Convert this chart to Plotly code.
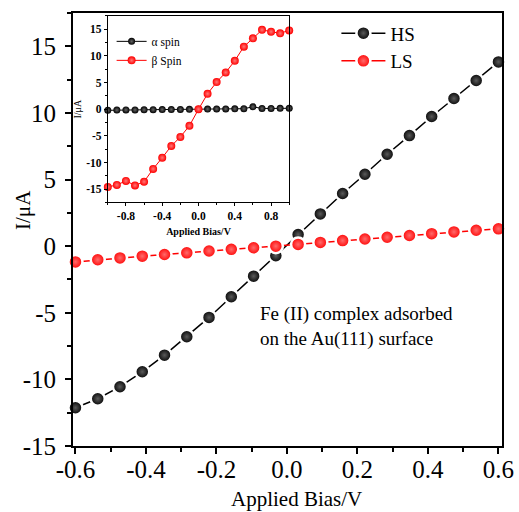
import plotly.graph_objects as go

# ---------------- data ----------------
bias_main = [-0.6, -0.5368, -0.4737, -0.4105, -0.3474, -0.2842, -0.2211, -0.1579, -0.0947, -0.0316,
             0.0316, 0.0947, 0.1579, 0.2211, 0.2842, 0.3474, 0.4105, 0.4737, 0.5368, 0.6]
hs_current = [-12.13, -11.45, -10.55, -9.43, -8.18, -6.8, -5.35, -3.8, -2.25, -0.72,
              0.87, 2.42, 3.95, 5.4, 6.9, 8.3, 9.73, 11.08, 12.43, 13.83]
ls_current = [-1.18, -1.02, -0.88, -0.75, -0.63, -0.5, -0.36, -0.24, -0.12, 0.0,
              0.13, 0.28, 0.42, 0.54, 0.67, 0.8, 0.94, 1.07, 1.19, 1.3]

bias_inset = [-1.0, -0.9, -0.8, -0.7, -0.6, -0.5, -0.4, -0.3, -0.2, -0.1, 0.0,
              0.1, 0.2, 0.3, 0.4, 0.5, 0.6, 0.7, 0.8, 0.9, 1.0]
alpha_current = [-0.2, -0.15, -0.12, -0.12, -0.1, -0.08, -0.06, -0.05, -0.03, -0.02, 0.0,
                 0.03, 0.05, 0.06, 0.08, 0.1, 0.45, 0.15, 0.15, 0.18, 0.18]
beta_current = [-14.6, -14.2, -13.45, -14.3, -13.6, -11.2, -9.1, -6.9, -5.2, -3.1, 0.0,
                2.9, 5.1, 6.9, 9.1, 11.75, 13.3, 14.9, 14.55, 14.25, 14.8]

main_xticks = [-0.6, -0.4, -0.2, 0.0, 0.2, 0.4, 0.6]
main_xticktext = ['-0.6', '-0.4', '-0.2', '0.0', '0.2', '0.4', '0.6']
main_yticks = [-15, -10, -5, 0, 5, 10, 15]
main_yticktext = ['-15', '-10', '-5', '0', '5', '10', '15']
inset_xticks = [-0.8, -0.4, 0.0, 0.4, 0.8]
inset_xticktext = ['-0.8', '-0.4', '0.0', '0.4', '0.8']
inset_yticks = [-15, -10, -5, 0, 5, 10, 15]
inset_yticktext = ['-15', '-10', '-5', '0', '5', '10', '15']

FONT = "Liberation Serif"

fig = go.Figure()

fig.add_trace(go.Scatter(
    x=bias_main, y=hs_current, name="HS", mode="lines+markers",
    line=dict(color="black", width=1.5),
    marker=dict(size=14, color="black", line=dict(color="white", width=2.5),
                gradient=dict(type="radial", color="#5a5a5a")),
    cliponaxis=False, xaxis="x", yaxis="y", legend="legend"))
fig.add_trace(go.Scatter(
    x=bias_main, y=ls_current, name="LS", mode="lines+markers",
    line=dict(color="red", width=1.5),
    marker=dict(size=14, color="#ff0000", line=dict(color="white", width=2.5),
                gradient=dict(type="radial", color="#ff6a6a")),
    cliponaxis=False, xaxis="x", yaxis="y", legend="legend"))

fig.add_trace(go.Scatter(
    x=bias_inset, y=alpha_current, name="\u03b1 spin", mode="lines+markers",
    line=dict(color="black", width=1),
    marker=dict(size=7, color="black", gradient=dict(type="radial", color="#666666")),
    cliponaxis=False, xaxis="x2", yaxis="y2", legend="legend2"))
fig.add_trace(go.Scatter(
    x=bias_inset, y=beta_current, name="\u03b2 Spin", mode="lines+markers",
    line=dict(color="red", width=1),
    marker=dict(size=8, color="#ff0000", gradient=dict(type="radial", color="#ff7777")),
    cliponaxis=False, xaxis="x2", yaxis="y2", legend="legend2"))

axis_common = dict(showgrid=False, zeroline=False, showline=True, linecolor="black",
                   mirror=True, ticks="outside", tickcolor="black", automargin=False)

fig.update_layout(
    template="none",
    width=519, height=512,
    margin=dict(l=73, r=17, t=13, b=66, autoexpand=False),
    paper_bgcolor="white", plot_bgcolor="white",
    font=dict(family=FONT, color="black"),
    xaxis=dict(**axis_common, range=[-0.607, 0.61], domain=[0, 1], anchor="y",
               linewidth=2, ticklen=6, tickwidth=1.5, ticklabelstandoff=-6,
               tickvals=main_xticks, ticktext=main_xticktext,
               tickfont=dict(family=FONT, size=25),
               minor=dict(tick0=0, dtick=0.1, ticklen=4, ticks="outside", tickcolor="black", showgrid=False)),
    yaxis=dict(**axis_common, range=[-15, 17.5], domain=[0, 1], anchor="x",
               linewidth=2, ticklen=6, tickwidth=1.5, ticklabelstandoff=4,
               tickvals=main_yticks, ticktext=main_yticktext,
               tickfont=dict(family=FONT, size=25),
               minor=dict(tick0=0, dtick=2.5, ticklen=4, ticks="outside", tickcolor="black", showgrid=False)),
    xaxis2=dict(**axis_common, range=[-1.0, 1.0], domain=[0.0811, 0.504], anchor="y2",
                linewidth=1, ticklen=3, tickwidth=1,
                tickvals=inset_xticks, ticktext=inset_xticktext,
                tickfont=dict(family=FONT, size=11.5, weight="bold"),
                minor=dict(tick0=0, dtick=0.2, ticklen=2, ticks="outside", tickcolor="black", showgrid=False),
                title=dict(text="<b>Applied Bias/V</b>", font=dict(family=FONT, size=10), standoff=6)),
    yaxis2=dict(**axis_common, range=[-17.5, 17.5], domain=[0.5624, 0.9931], anchor="x2",
                linewidth=1, ticklen=3, tickwidth=1,
                tickvals=inset_yticks, ticktext=inset_yticktext,
                tickfont=dict(family=FONT, size=11.5, weight="bold"),
                minor=dict(tick0=0, dtick=2.5, ticklen=2, ticks="outside", tickcolor="black", showgrid=False),
                title=dict(text="I/\u03bcA", font=dict(family=FONT, size=10), standoff=2)),
    legend=dict(x=0.614, y=0.997, xanchor="left", yanchor="top", bgcolor="rgba(0,0,0,0)",
                font=dict(family=FONT, size=19), itemwidth=44, tracegroupgap=0),
    legend2=dict(x=0.09, y=0.968, xanchor="left", yanchor="top", bgcolor="rgba(0,0,0,0)",
                 font=dict(family=FONT, size=11.5), itemwidth=30, tracegroupgap=0),
    showlegend=True,
)

# main axis titles
fig.add_annotation(text="Applied Bias/V", xref="paper", yref="paper", x=0.52, y=-0.1223,
                   xanchor="center", yanchor="middle", showarrow=False,
                   font=dict(family=FONT, size=21, color="black"))
fig.add_annotation(text="I/\u03bcA", xref="paper", yref="paper", x=-0.118, y=0.546,
                   xanchor="center", yanchor="middle", textangle=-90, showarrow=False,
                   font=dict(family=FONT, size=21, color="black"))

fig.add_annotation(
    text="Fe (II) complex adsorbed<br>on the Au(111) surface",
    xref="paper", yref="paper", x=0.431, y=0.275, xanchor="left", yanchor="middle",
    align="left", showarrow=False, font=dict(family=FONT, size=19, color="black"))

fig.write_html("out.html")
